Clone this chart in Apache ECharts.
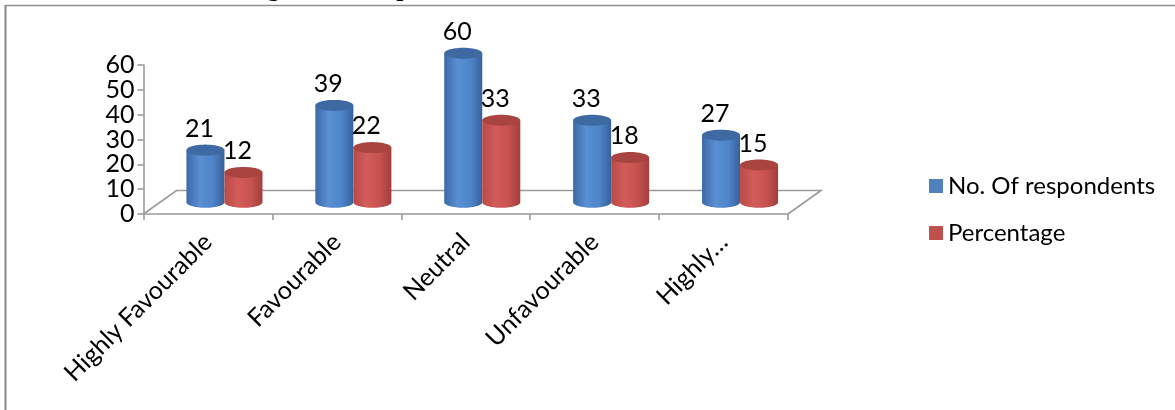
<!DOCTYPE html>
<html>
<head>
<meta charset="utf-8">
<script src="https://cdn.jsdelivr.net/npm/echarts@6/dist/echarts.min.js"></script>
<style>
  html, body { margin: 0; padding: 0; background: #fff; }
  #chart { width: 1175px; height: 410px; }
</style>
</head>
<body>
<div id="chart"></div>
<script>
// Survey answers per category
const categories = ['Highly Favourable', 'Favourable', 'Neutral', 'Unfavourable', 'Highly Unfavourable'];
const tickLabels = ['Highly Favourable', 'Favourable', 'Neutral', 'Unfavourable', 'Highly…'];
const respondents = [21, 39, 60, 33, 27];
const percentage = [12, 22, 33, 18, 15];
const seriesNames = ['No. Of respondents', 'Percentage'];
const yMin = 0, yMax = 60, yStep = 10;

const FONT = 'Lato';
const AXIS_GREY = '#9a9a9a';

// Fake 3D floor depth (pixels); cylinders stand at mid depth
const DEPTH_X = 33, DEPTH_Y = -23.5;
const CYL_WIDTH_FRAC = 0.295;
const CYL_RY = 5.5;

const palettes = [
  { base: '#4f81bd', top: '#3e69a2',
    stops: [['#3b69a8', 0], ['#5a8fd2', 0.35], ['#4e84c9', 0.7], ['#37619b', 1]] },
  { base: '#c0504d', top: '#a94441',
    stops: [['#b94a47', 0], ['#d35c59', 0.35], ['#c6524f', 0.7], ['#a23e3b', 1]] }
];

function ellipsePts(cx, cy, rx, ry, a0, a1, n) {
  const pts = [];
  for (let i = 0; i <= n; i++) {
    const t = a0 + (a1 - a0) * i / n;
    pts.push([cx + rx * Math.cos(t), cy + ry * Math.sin(t)]);
  }
  return pts;
}

function cylinderRenderer(sIdx) {
  const pal = palettes[sIdx];
  return function (params, api) {
    const ci = api.value(0);
    const v = api.value(1);
    const base = api.coord([ci, 0]);
    const top = api.coord([ci, v]);
    const bw = api.size([1, 0])[0];
    const cw = bw * CYL_WIDTH_FRAC;
    const rx = cw / 2;
    const cx = base[0] + DEPTH_X / 2 + (sIdx === 0 ? -rx : rx);
    const yBot = base[1] + DEPTH_Y / 2;
    const yTop = top[1] + DEPTH_Y / 2;

    const body = [[cx - rx, yTop]]
      .concat(ellipsePts(cx, yBot, rx, CYL_RY, Math.PI, 0, 30))
      .concat([[cx + rx, yTop]]);
    const cap = ellipsePts(cx, yTop, rx, CYL_RY, 0, Math.PI * 2, 48);

    return {
      type: 'group',
      children: [
        {
          type: 'polygon',
          shape: { points: body },
          style: {
            fill: {
              type: 'linear', x: 0, y: 0, x2: 1, y2: 0,
              colorStops: pal.stops.map(s => ({ offset: s[1], color: s[0] }))
            }
          }
        },
        {
          type: 'polygon',
          shape: { points: cap },
          style: { fill: pal.top }
        },
        {
          type: 'text',
          x: cx - 6,
          y: yTop - 9,
          style: {
            text: String(v),
            fill: '#000',
            font: '25px ' + FONT,
            align: 'center',
            verticalAlign: 'bottom'
          }
        }
      ]
    };
  };
}

function floorRenderer(params, api) {
  const n = categories.length;
  const bw = api.size([1, 0])[0];
  const first = api.coord([0, 0]);
  const last = api.coord([n - 1, 0]);
  const fl = [first[0] - bw / 2, first[1]];
  const fr = [last[0] + bw / 2, last[1]];
  const bl = [fl[0] + DEPTH_X, fl[1] + DEPTH_Y];
  const br = [fr[0] + DEPTH_X, fr[1] + DEPTH_Y];
  return {
    type: 'polyline',
    shape: { points: [fl, bl, br, fr] },
    style: { stroke: AXIS_GREY, lineWidth: 1.6, fill: null }
  };
}

const chart = echarts.init(document.getElementById('chart'), null, { renderer: 'canvas' });

chart.setOption({
  animation: false,
  backgroundColor: '#fff',
  graphic: [
    {
      type: 'line', silent: true,
      shape: { x1: 5.5, y1: 5.5, x2: 1175, y2: 5.5 },
      style: { stroke: '#8f8f8f', lineWidth: 1.5 }
    },
    {
      type: 'line', silent: true,
      shape: { x1: 5.5, y1: 5, x2: 5.5, y2: 410 },
      style: { stroke: '#888', lineWidth: 2 }
    },
    {
      type: 'text', silent: true,
      x: 205, y: -10.5,
      style: {
        text: 'Rating of the Respondents',
        font: 'bold 26px "Liberation Serif"',
        fill: '#000',
        align: 'left',
        verticalAlign: 'middle'
      }
    }
  ],
  grid: { left: 143.5, top: 65, width: 644.5, height: 149, containLabel: false },
  legend: {
    data: seriesNames,
    orient: 'vertical',
    left: 924,
    top: 166,
    icon: 'rect',
    itemWidth: 14,
    itemHeight: 14,
    itemGap: 17,
    textStyle: { fontFamily: FONT, fontSize: 24, color: '#000', lineHeight: 30 }
  },
  xAxis: {
    type: 'category',
    data: categories,
    boundaryGap: true,
    axisLine: { lineStyle: { color: AXIS_GREY, width: 1.6 } },
    axisTick: { show: true, length: 6, lineStyle: { color: AXIS_GREY, width: 1.6 } },
    axisLabel: {
      interval: 0,
      rotate: 45,
      margin: 24,
      fontFamily: FONT,
      fontSize: 25,
      color: '#000',
      formatter: (v, i) => tickLabels[i]
    },
    splitLine: { show: false }
  },
  yAxis: {
    type: 'value',
    min: yMin,
    max: yMax,
    interval: yStep,
    axisLine: { show: true, lineStyle: { color: AXIS_GREY, width: 1.6 } },
    axisTick: { show: true, length: 6, lineStyle: { color: AXIS_GREY, width: 1.6 } },
    axisLabel: { margin: 9, fontFamily: FONT, fontSize: 25, color: '#000' },
    splitLine: { show: false }
  },
  series: [
    {
      type: 'custom',
      name: 'floor',
      renderItem: floorRenderer,
      data: [[0, 0]],
      z: 1,
      silent: true
    },
    {
      type: 'custom',
      name: seriesNames[0],
      renderItem: cylinderRenderer(0),
      itemStyle: { color: palettes[0].base },
      data: respondents.map((v, i) => [i, v]),
      encode: { x: 0, y: 1 },
      z: 2
    },
    {
      type: 'custom',
      name: seriesNames[1],
      renderItem: cylinderRenderer(1),
      itemStyle: { color: palettes[1].base },
      data: percentage.map((v, i) => [i, v]),
      encode: { x: 0, y: 1 },
      z: 3
    }
  ]
});
</script>
</body>
</html>
